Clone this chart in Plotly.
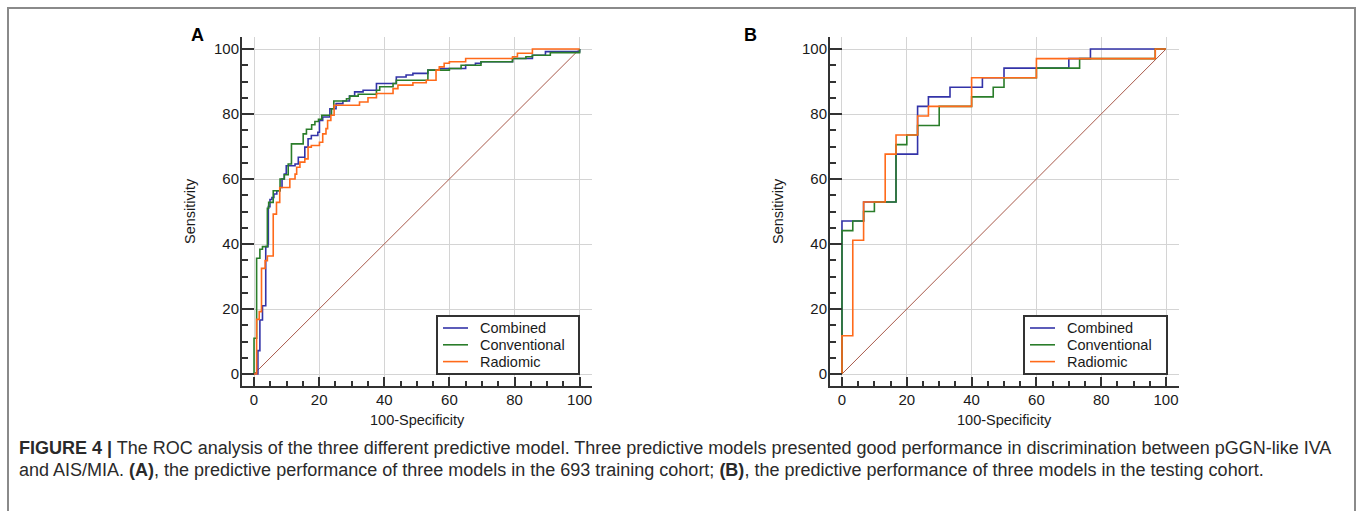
import plotly.graph_objects as go

W, H = 1360, 511

# ---------------- data ----------------
series_names = ["Combined", "Conventional", "Radiomic"]
series_colors = ["#3333a8", "#2a7d2a", "#ff6a1a"]

# Panel A (training cohort): 100-Specificity (x) vs Sensitivity (y), step corners
a_combined_x = [0, 1.2, 1.8, 2.6, 3.6, 4.3, 4.4, 4.9, 5.5, 6.1, 7, 8, 8.6, 9.3, 9.9, 12.6, 13.6, 15.6, 16.6, 17.6,
                19.6, 20.1, 21.1, 23.3, 25.2, 27.3, 29.3, 30.9, 33.5, 37.6, 43.7, 46.7, 48.8, 53.4, 57, 65, 68,
                69.7, 79.4, 85.5, 89.5, 100]
a_combined_y = [0, 7.2, 16.6, 21, 39.2, 40, 51.5, 53.7, 54.3, 55.4, 56.4, 57.4, 60, 61.5, 64.1, 64.6, 66.7, 69.8,
                72.4, 73.4, 74.4, 78, 79.1, 81.6, 83.2, 84, 85.5, 86.8, 87.3, 89.4, 91.4, 92, 92.5, 93.5, 94, 95,
                95.6, 96.1, 97.1, 98.1, 99.2, 100]

a_conv_x = [0, 0, 0.8, 1.8, 2.6, 4.1, 4.5, 5.9, 8, 9.3, 10.5, 11.5, 15.1, 16.1, 17.7, 18.7, 19.8, 20.8, 23.8,
            24.5, 28.4, 29.4, 32, 37.6, 38.6, 42.7, 43.7, 53.4, 60, 63.6, 69.7, 79.4, 83.5, 85.5, 91, 100]
a_conv_y = [0, 11, 35.6, 38.4, 39.2, 51, 52.8, 56.4, 60, 61.3, 64.6, 70.8, 73.9, 75.3, 76.7, 77.7, 78.4, 79.6,
            81.6, 84, 84.7, 85.5, 86.1, 87.3, 88.4, 89.4, 90.4, 93.5, 94, 95, 96.1, 97.1, 97.6, 98.1, 98.9, 100]

a_radio_x = [0, 0.8, 1.6, 2.3, 3.4, 4.1, 5.9, 6.9, 7.9, 11, 12.6, 13.1, 14.1, 15.6, 16.6, 17.6, 20.1, 21.1,
             22.1, 22.6, 23.6, 24.6, 32.4, 35, 37.6, 42.7, 44.2, 48.8, 52.9, 55.9, 56.9, 58.4, 60, 65, 79.4,
             80.9, 85.5, 100]
a_radio_y = [0, 16.8, 19.2, 32.5, 34.9, 36.3, 49.2, 52.8, 57.4, 60, 61.5, 63.6, 65.2, 66.2, 69.8, 70.3, 71.3,
             73.9, 75.5, 78, 79.6, 82.7, 83.7, 85, 86.3, 87.8, 88.9, 89.6, 90.4, 93.5, 94.5, 95.6, 96.1, 97.1,
             97.6, 98.7, 100, 100]

# Panel B (testing cohort)
b_combined_x = [0, 0, 6.67, 16.67, 23.33, 26.67, 33.33, 43.33, 50, 70, 76.67, 100]
b_combined_y = [0, 47.06, 52.94, 67.65, 82.35, 85.29, 88.24, 91.18, 94.12, 97.06, 100, 100]

b_conv_x = [0, 0, 3.33, 6.67, 10, 16.67, 20, 23.33, 30, 40, 46.67, 50, 60, 73.33, 96.67, 100]
b_conv_y = [0, 44.12, 47.06, 50, 52.94, 70.59, 73.53, 76.47, 82.35, 85.29, 88.24, 91.18, 94.12, 97.06, 100, 100]

b_radio_x = [0, 0, 3.33, 6.67, 13.33, 16.67, 23.33, 26.67, 40, 60, 96.67, 100]
b_radio_y = [0, 11.76, 41.18, 52.94, 67.65, 73.53, 79.41, 82.35, 91.18, 97.06, 100, 100]

diag_x = [0, 100]
diag_y = [0, 100]

x_ticks = [0, 20, 40, 60, 80, 100]
y_ticks = [0, 20, 40, 60, 80, 100]

panel_labels = ["A", "B"]
x_title = "100-Specificity"
y_title = "Sensitivity"
caption_1 = ("<b>FIGURE 4 |</b> The ROC analysis of the three different predictive model. Three predictive "
             "models presented good performance in discrimination between pGGN-like IVA")
caption_2 = ("and AIS/MIA. <b>(A)</b>, the predictive performance of three models in the 693 training cohort; "
             "<b>(B)</b>, the predictive performance of three models in the testing cohort.")

# ---------------- figure ----------------
FONT = "Liberation Sans, Arial, Helvetica, sans-serif"


def px(x):
    return x / W


def py(y):
    return 1 - y / H


fig = go.Figure()

panels = [
    dict(xa="x", ya="y", data=[(a_combined_x, a_combined_y), (a_conv_x, a_conv_y), (a_radio_x, a_radio_y)],
         legend_box=(437, 316, 579, 374)),
    dict(xa="x2", ya="y2", data=[(b_combined_x, b_combined_y), (b_conv_x, b_conv_y), (b_radio_x, b_radio_y)],
         legend_box=(1024, 316, 1167, 374)),
]

shapes = []
annotations = []

for p in panels:
    fig.add_trace(go.Scatter(x=diag_x, y=diag_y, mode="lines", xaxis=p["xa"], yaxis=p["ya"],
                             line=dict(color="#a8594a", width=1), showlegend=False, hoverinfo="skip"))
    for name, color, (xs, ys) in zip(series_names, series_colors, p["data"]):
        fig.add_trace(go.Scatter(x=xs, y=ys, mode="lines", name=name, xaxis=p["xa"], yaxis=p["ya"],
                                 line=dict(color=color, width=1.6, shape="hv"), showlegend=False))
    # legend box (drawn in layout so spacing matches the original)
    x0, y0, x1, y1 = p["legend_box"]
    shapes.append(dict(type="rect", xref="paper", yref="paper", x0=px(x0), x1=px(x1), y0=py(y1), y1=py(y0),
                       line=dict(color="#333333", width=2), fillcolor="white", layer="above"))
    for i, (name, color) in enumerate(zip(series_names, series_colors)):
        yy = y0 + 12 + i * 16.8
        shapes.append(dict(type="line", xref="paper", yref="paper", x0=px(x0 + 6), x1=px(x0 + 31),
                           y0=py(yy), y1=py(yy), line=dict(color=color, width=1.6), layer="above"))
        annotations.append(dict(text=name, x=px(x0 + 41), y=py(yy), xref="paper", yref="paper",
                                showarrow=False, xanchor="left", yanchor="middle",
                                font=dict(family=FONT, size=14.5, color="#1a1a1a")))

tickfont = dict(family=FONT, size=15, color="#1a1a1a")


def xaxis_cfg(domain, rng, anchor):
    return dict(domain=domain, range=rng, anchor=anchor, tickvals=x_ticks, showline=True,
                linecolor="#333333", linewidth=2, ticks="inside", ticklen=9, tickwidth=2, tickcolor="#333333",
                minor=dict(dtick=5, tick0=0, ticks="inside", ticklen=5, tickwidth=1.5, tickcolor="#333333",
                           showgrid=False),
                showgrid=True, gridcolor="#d4d4d4", gridwidth=1, zeroline=False, tickfont=tickfont,
                ticklabelstandoff=-1, fixedrange=True)


def yaxis_cfg(domain, rng, anchor):
    return dict(domain=domain, range=rng, anchor=anchor, tickvals=y_ticks, showline=True,
                linecolor="#333333", linewidth=2, ticks="inside", ticklen=12, tickwidth=2, tickcolor="#333333",
                minor=dict(dtick=5, tick0=0, ticks="inside", ticklen=6, tickwidth=1.5, tickcolor="#333333",
                           showgrid=False),
                showgrid=True, gridcolor="#d4d4d4", gridwidth=1, zeroline=False, tickfont=tickfont,
                ticklabelstandoff=-2, fixedrange=True)


ydom = [py(386), py(37)]
yrng = [-3.69, 103.7]

for lbl, cx in zip(panel_labels, [197, 750]):
    annotations.append(dict(text="<b>%s</b>" % lbl, x=px(cx), y=py(35), xref="paper", yref="paper",
                            showarrow=False, font=dict(family=FONT, size=18, color="black"),
                            xanchor="center", yanchor="middle"))
for cx, ax_cx in [(190, 417), (778, 1004)]:
    annotations.append(dict(text=y_title, x=px(cx), y=py(211), xref="paper", yref="paper", showarrow=False,
                            textangle=-90, xanchor="center", yanchor="middle",
                            font=dict(family=FONT, size=14.5, color="#1a1a1a")))
    annotations.append(dict(text=x_title, x=px(ax_cx), y=py(420), xref="paper", yref="paper", showarrow=False,
                            xanchor="center", yanchor="middle",
                            font=dict(family=FONT, size=14.5, color="#1a1a1a")))
for txt, yy in [(caption_1, 448), (caption_2, 470)]:
    annotations.append(dict(text=txt, x=px(17), y=py(yy), xref="paper", yref="paper", showarrow=False,
                            xanchor="left", yanchor="middle", align="left",
                            font=dict(family=FONT, size=18, color="#2a2a2a")))

shapes.append(dict(type="rect", xref="paper", yref="paper", x0=px(8), x1=px(1355), y0=py(530), y1=py(8),
                   line=dict(color="#8a8a8a", width=2), fillcolor="rgba(0,0,0,0)", layer="below"))

fig.update_layout(
    width=W, height=H, margin=dict(l=0, r=0, t=0, b=0),
    paper_bgcolor="white", plot_bgcolor="white",
    xaxis=xaxis_cfg([px(242), px(592)], [-3.69, 103.8], "y"),
    yaxis=yaxis_cfg(ydom, yrng, "x"),
    xaxis2=xaxis_cfg([px(830), px(1179)], [-3.7, 104.0], "y2"),
    yaxis2=yaxis_cfg(ydom, yrng, "x2"),
    annotations=annotations,
    shapes=shapes,
    showlegend=False,
)

fig.write_html("out.html")
